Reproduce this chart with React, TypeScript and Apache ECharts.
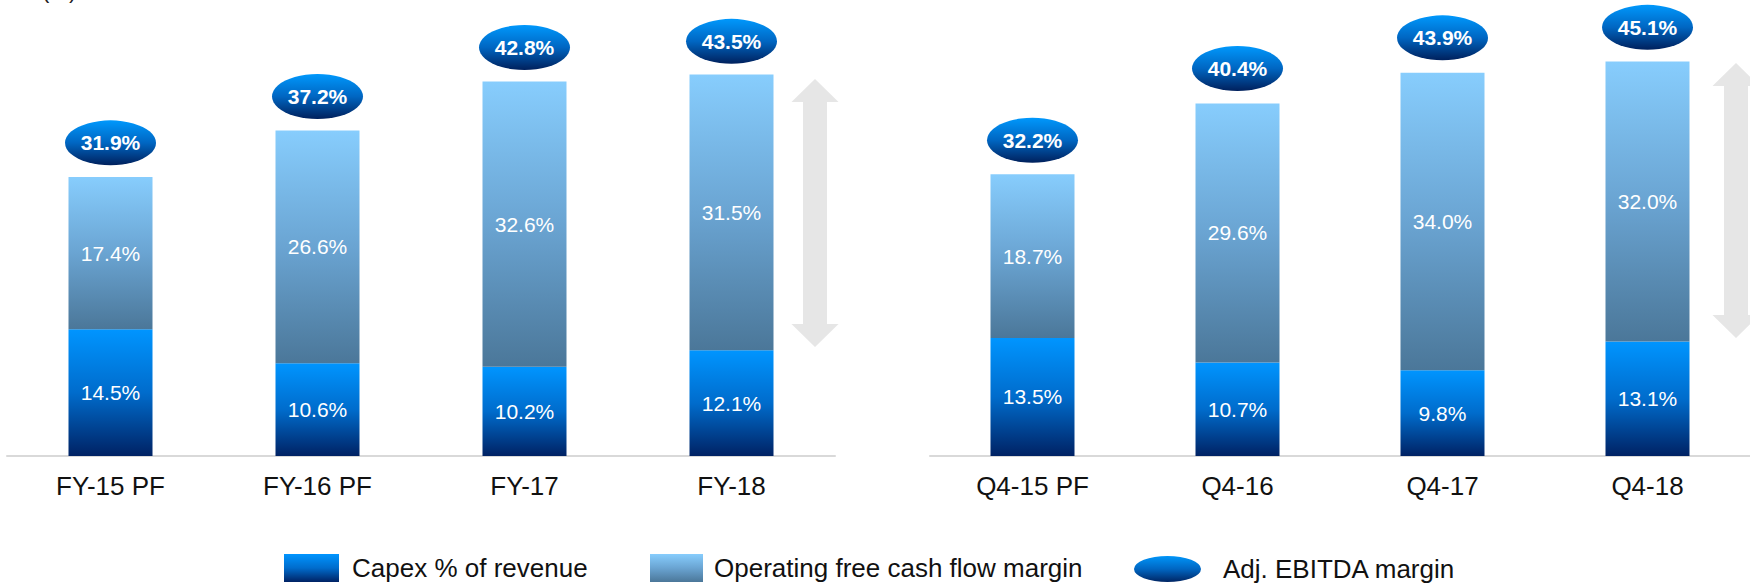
import React, { useEffect, useRef } from "react";
import * as echarts from "echarts";

const categoriesFY = ["FY-15 PF", "FY-16 PF", "FY-17", "FY-18"];
const capexFY = [14.5, 10.6, 10.2, 12.1];
const ofcfFY = [17.4, 26.6, 32.6, 31.5];
const ebitdaFY = [31.9, 37.2, 42.8, 43.5];

const categoriesQ4 = ["Q4-15 PF", "Q4-16", "Q4-17", "Q4-18"];
const capexQ4 = [13.5, 10.7, 9.8, 13.1];
const ofcfQ4 = [18.7, 29.6, 34.0, 32.0];
const ebitdaQ4 = [32.2, 40.4, 43.9, 45.1];

const seriesNames = ["Capex % of revenue", "Operating free cash flow margin", "Adj. EBITDA margin"];

const FONT = '"Liberation Sans", Arial, sans-serif';

const grad = (stops: [number, string][]) =>
  new echarts.graphic.LinearGradient(0, 0, 0, 1, stops.map(([offset, color]) => ({ offset, color })));

const capexColor = () => grad([[0, "#0095ff"], [0.5, "#006ccc"], [1, "#002264"]]);
const ofcfColor = () => grad([[0, "#87cdfd"], [0.5, "#6aa4d2"], [1, "#4b7799"]]);
const ellipseColor = () => grad([[0, "#0098fc"], [0.5, "#0066c2"], [1, "#00205c"]]);

const pct = (p: any) => Number(p.value).toFixed(1) + "%";

const arrowPoints = (cx: number, top: number, bottom: number) => {
  const hw = 23.5, sw = 12, hh = 23;
  return [
    [cx, top],
    [cx + hw, top + hh],
    [cx + sw, top + hh],
    [cx + sw, bottom - hh],
    [cx + hw, bottom - hh],
    [cx, bottom],
    [cx - hw, bottom - hh],
    [cx - sw, bottom - hh],
    [cx - sw, top + hh],
    [cx - hw, top + hh],
  ];
};

export default function App() {
  const ref = useRef<HTMLDivElement>(null);
  useEffect(() => {
    if (!ref.current) return;
    const chart = echarts.init(ref.current, undefined, { renderer: "svg" });

    const makeSeries = (idx: number, capex: number[], ofcf: number[], ebitda: number[]) => [
      {
        name: seriesNames[0],
        type: "bar",
        xAxisIndex: idx,
        yAxisIndex: idx,
        stack: "s" + idx,
        barWidth: 84,
        data: capex,
        itemStyle: { color: capexColor() },
        label: { show: true, position: "inside", formatter: pct, color: "#ffffff", fontSize: 21, fontFamily: FONT },
      },
      {
        name: seriesNames[1],
        type: "bar",
        xAxisIndex: idx,
        yAxisIndex: idx,
        stack: "s" + idx,
        barWidth: 84,
        data: ofcf,
        itemStyle: { color: ofcfColor() },
        label: { show: true, position: "inside", formatter: pct, color: "#ffffff", fontSize: 21, fontFamily: FONT },
      },
      {
        name: seriesNames[2],
        type: "scatter",
        xAxisIndex: idx,
        yAxisIndex: idx,
        clip: false,
        z: 5,
        symbol: "circle",
        symbolSize: [91, 45],
        symbolOffset: [0, -34],
        data: ebitda,
        itemStyle: { color: ellipseColor(), opacity: 1 },
        emphasis: { disabled: true },
        label: {
          show: true,
          position: "inside",
          formatter: pct,
          color: "#ffffff",
          fontSize: 21,
          fontWeight: "bold",
          fontFamily: FONT,
        },
      },
    ];

    const xAxis = (idx: number, cats: string[]) => ({
      type: "category",
      gridIndex: idx,
      data: cats,
      axisLine: { show: true, lineStyle: { color: "#d9d9d9", width: 2 } },
      axisTick: { show: false },
      axisLabel: { color: "#111111", fontSize: 26, fontFamily: FONT, margin: 17 },
    });
    const yAxis = (idx: number) => ({
      type: "value",
      gridIndex: idx,
      min: 0,
      max: 50,
      show: false,
      splitLine: { show: false },
    });

    const legendBase = {
      orient: "horizontal",
      itemGap: 0,
      padding: 0,
      textStyle: { color: "#111111", fontSize: 26, fontFamily: FONT },
    };

    chart.setOption({
      animation: false,
      backgroundColor: "#ffffff",
      grid: [
        { left: 7, width: 828, top: 18.5, height: 437.5 },
        { left: 930, width: 828, top: 18.5, height: 437.5 },
      ],
      xAxis: [xAxis(0, categoriesFY), xAxis(1, categoriesQ4)],
      yAxis: [yAxis(0), yAxis(1)],
      legend: [
        {
          ...legendBase,
          left: 284,
          top: 554,
          itemWidth: 55,
          itemHeight: 28,
          icon: "rect",
          data: [seriesNames[0]],
          textStyle: { ...legendBase.textStyle, padding: [0, 0, 0, 8] },
        },
        {
          ...legendBase,
          left: 650,
          top: 554,
          itemWidth: 53,
          itemHeight: 28,
          icon: "rect",
          data: [seriesNames[1]],
          textStyle: { ...legendBase.textStyle, padding: [0, 0, 0, 6] },
        },
        {
          ...legendBase,
          left: 1134,
          top: 555,
          itemWidth: 67,
          itemHeight: 28,
          icon: "path://M0,14a33.5,13 0 1,0 67,0a33.5,13 0 1,0 -67,0ZM0,0h0.01v0.01h-0.01ZM67,28h-0.01v-0.01h0.01Z",
          data: [seriesNames[2]],
          textStyle: { ...legendBase.textStyle, padding: [0, 0, 0, 17] },
        },
      ],
      graphic: [
        {
          type: "text",
          left: 42,
          top: -21,
          style: { text: "(%)", fontSize: 22, fontFamily: FONT, fill: "#222222" },
        },
        {
          type: "polygon",
          shape: { points: arrowPoints(815, 79, 347) },
          style: { fill: "#e6e6e6" },
        },
        {
          type: "polygon",
          shape: { points: arrowPoints(1736, 63, 338) },
          style: { fill: "#e6e6e6" },
        },
      ],
      series: [...makeSeries(0, capexFY, ofcfFY, ebitdaFY), ...makeSeries(1, capexQ4, ofcfQ4, ebitdaQ4)],
    });

    return () => chart.dispose();
  }, []);

  return (
    <div
      ref={ref}
      style={{ position: "absolute", left: 0, top: 0, width: 1750, height: 584 }}
    />
  );
}
